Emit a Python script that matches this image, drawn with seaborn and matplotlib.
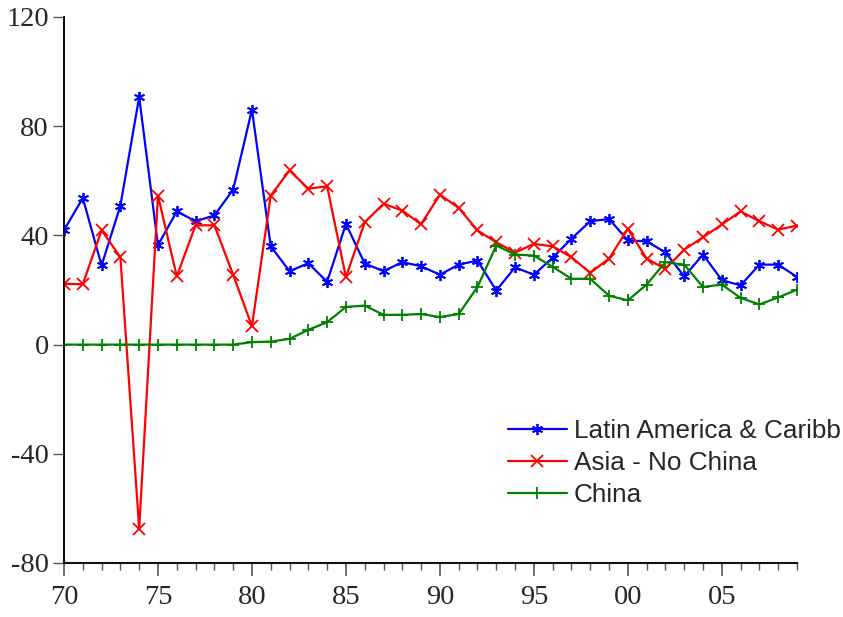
import matplotlib
matplotlib.use("Agg")
import matplotlib.pyplot as plt
import numpy as np
import pandas as pd
import seaborn as sns
from matplotlib.ticker import FixedLocator, MultipleLocator

years = list(range(1970, 2010))

latin_america = [41.9, 53.7, 29.0, 50.9, 90.7, 36.4, 48.8, 45.2, 47.3, 56.8,
                 86.1, 36.0, 26.9, 29.8, 23.0, 44.2, 29.7, 26.9, 30.2, 28.7,
                 25.6, 29.3, 30.8, 19.8, 28.3, 25.6, 31.8, 38.8, 45.2, 46.0,
                 38.2, 37.8, 33.8, 25.0, 33.0, 23.6, 21.7, 29.3, 29.3, 24.8]

asia_no_china = [22.3, 22.1, 41.9, 32.0, -67.4, 54.6, 25.0, 43.7, 43.7, 25.6,
                 6.7, 54.6, 63.8, 57.1, 58.0, 24.7, 44.8, 51.6, 49.1, 44.1,
                 54.9, 50.1, 41.8, 37.5, 33.7, 36.9, 36.0, 32.0, 26.3, 31.5,
                 42.4, 31.5, 27.7, 34.8, 39.3, 44.0, 48.8, 45.2, 42.1, 43.6]

china = [0.0, 0.0, 0.0, 0.0, 0.0, 0.0, 0.0, 0.0, 0.0, 0.0,
         0.9, 1.1, 2.1, 5.4, 8.2, 13.8, 14.3, 10.9, 10.9, 11.2,
         10.1, 11.2, 21.1, 36.3, 33.0, 32.6, 28.5, 24.1, 24.1, 17.9,
         16.2, 22.0, 30.2, 29.3, 21.1, 22.0, 17.1, 14.7, 17.3, 20.1]

series_names = ["Latin America & Caribb", "Asia - No China", "China"]
series_values = [latin_america, asia_no_china, china]
series_colors = ["#0000ff", "#ff0000", "#008000"]
series_markers = [(6, 2, 0), "x", "+"]

x_tick_years = [1970, 1975, 1980, 1985, 1990, 1995, 2000, 2005]
x_tick_labels = ["70", "75", "80", "85", "90", "95", "00", "05"]
y_ticks = [-80, -40, 0, 40, 80, 120]

sns.set_style("ticks")
plt.rcParams["font.family"] = ["Liberation Sans", "DejaVu Sans"]

fig = plt.figure(figsize=(8.43, 6.17), dpi=100)
ax = fig.add_axes([64 / 843, 1 - 563 / 617, 733 / 843, 546 / 617])

for name, vals, col, mk in zip(series_names, series_values, series_colors, series_markers):
    df = pd.DataFrame({"year": years, "value": vals})
    sns.lineplot(data=df, x="year", y="value", ax=ax, color=col, marker=mk,
                 markersize=8, mec=col, mew=1.3, linewidth=1.6, label=name)

ax.set_xlim(1970, 2009)
ax.set_ylim(-80, 120)
ax.xaxis.set_major_locator(FixedLocator(x_tick_years))
ax.set_xticklabels(x_tick_labels)
ax.xaxis.set_minor_locator(MultipleLocator(1))
ax.set_yticks(y_ticks)
ax.set_yticklabels([str(v) for v in y_ticks])
ax.set_xlabel("")
ax.set_ylabel("")

sns.despine(ax=ax)
for sp in ["left", "bottom"]:
    ax.spines[sp].set_linewidth(1.5)
    ax.spines[sp].set_color("#111111")

ax.tick_params(axis="x", which="major", length=9, width=1.2, color="#555555",
               pad=7, labelsize=20.5)
ax.tick_params(axis="x", which="minor", length=5, width=1.0, color="#555555")
ax.tick_params(axis="y", which="major", length=8, width=1.0, color="#555555",
               pad=3, labelsize=20.5)
for lab in ax.get_xticklabels() + ax.get_yticklabels():
    lab.set_fontfamily(["Liberation Serif", "DejaVu Serif"])

leg = ax.legend(loc="upper left", bbox_to_anchor=(508 / 843, 1 - 419 / 617),
                bbox_transform=fig.transFigure, frameon=False, fontsize=18.8,
                borderpad=0, borderaxespad=0, handlelength=2.25,
                handletextpad=0.28, labelspacing=0.3)
for line in leg.get_lines():
    line.set_markersize(8)

fig.savefig("out.png", dpi=100)
